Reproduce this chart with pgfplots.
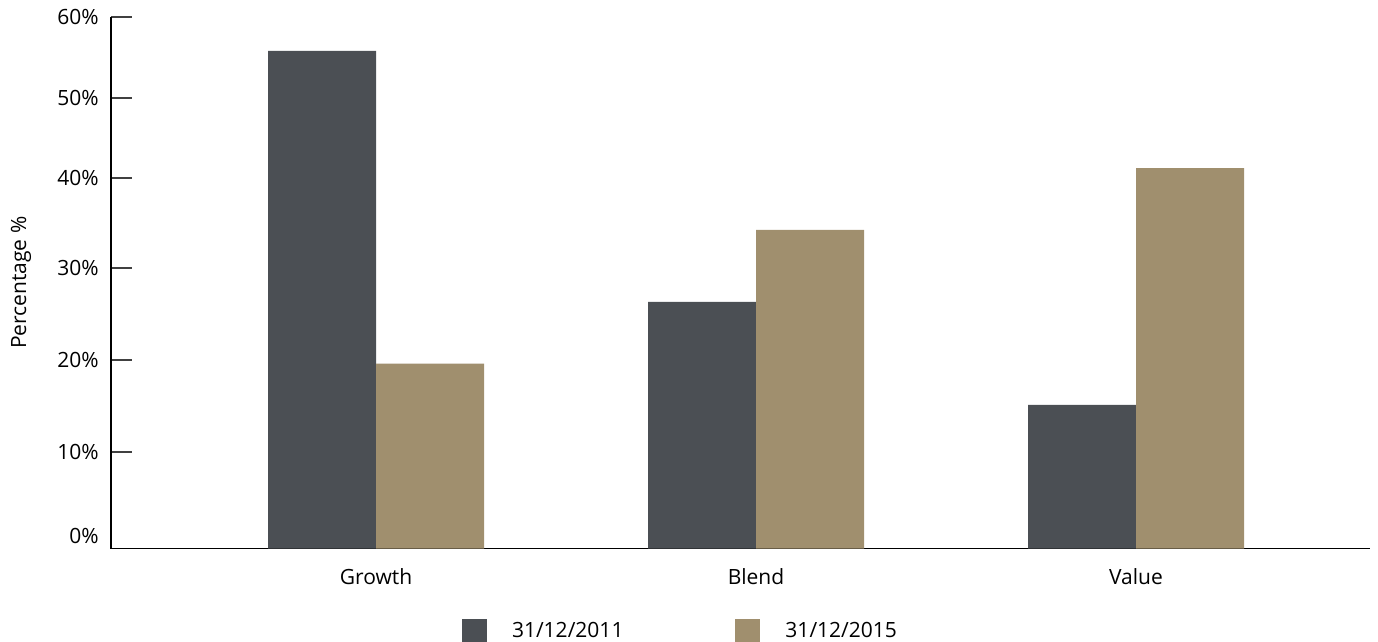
\documentclass[border=0pt]{standalone}
\usepackage{pgfplots}
\pgfplotsset{compat=1.18}
\usepackage{fontspec}
\setmainfont{Open Sans}
\definecolor{cdark}{HTML}{4B4F54}
\definecolor{ctan}{HTML}{A08F6E}
\begin{document}
\begin{tikzpicture}[font=\fontsize{10.5bp}{12bp}\selectfont]
\begin{axis}[
  at={(0,0)}, anchor=south west,
  scale only axis, width=629.5bp, height=265.75bp,
  y coord trafo/.code={\pgfmathparse{#1<=10 ? 9.68*#1 : (#1<=20 ? 96.8+9.17*(#1-10) : (#1<=30 ? 188.5+9.23*(#1-20) : (#1<=40 ? 280.8+9.0*(#1-30) : (#1<=50 ? 370.8+8.0*(#1-40) : 450.8+8.07*(#1-50)))))}},
  y coord inv trafo/.code={\pgfmathparse{#1<=96.8 ? #1/9.68 : (#1<=188.5 ? 10+(#1-96.8)/9.17 : (#1<=280.8 ? 20+(#1-188.5)/9.23 : (#1<=370.8 ? 30+(#1-280.8)/9.0 : (#1<=450.8 ? 40+(#1-370.8)/8.0 : 50+(#1-450.8)/8.07))))}},
  ymin=0, ymax=60,
  xmin=-0.6974, xmax=2.6158,
  enlargelimits=false,
  axis x line=bottom, axis y line=left,
  axis line style={-, black, line width=0.9bp},
  ytick={0,10,20,30,40,50,60},
  yticklabels={\raisebox{13bp}{0\%},10\%,20\%,30\%,40\%,50\%,60\%},
  tick align=inside,
  major tick length=10.5bp,
  ytick style={draw=black!75, line width=0.9bp},
  yticklabel style={anchor=east, inner sep=0pt, xshift=-6bp},
  xtick={0,1,2},
  xticklabels={Growth,Blend,Value},
  xtick style={draw=none},
  xticklabel style={anchor=center, inner sep=0pt, yshift=-3.6bp},
  ylabel={Percentage \%},
  ylabel style={at={(axis description cs:0,0.5)}, anchor=center, yshift=45bp, inner sep=0pt},
  ybar, bar width=54bp,
  legend style={at={(axis description cs:0.2788,-0.1553)}, anchor=west, draw=none, fill=none,
    legend columns=2, inner sep=0pt, outer sep=0pt,
    nodes={inner sep=0pt},
    /tikz/every odd column/.append style={column sep=12.5bp},
    /tikz/every even column/.append style={column sep=56bp}},
  legend image code/.code={\fill[#1] (0bp,-6bp) rectangle (12.5bp,6bp);},
]
\addplot[fill=cdark, draw=none, bar shift=-27bp] coordinates {(0,55.8) (1,26.3) (2,15.1)};
\addplot[fill=ctan, draw=none, bar shift=27bp] coordinates {(0,19.6) (1,34.2) (2,41.2)};
\legend{31/12/2011, 31/12/2015}
\end{axis}
\pgfresetboundingbox
\useasboundingbox (-55.5bp,-46.75bp) rectangle (633.5bp,274.25bp);
\end{tikzpicture}
\end{document}
